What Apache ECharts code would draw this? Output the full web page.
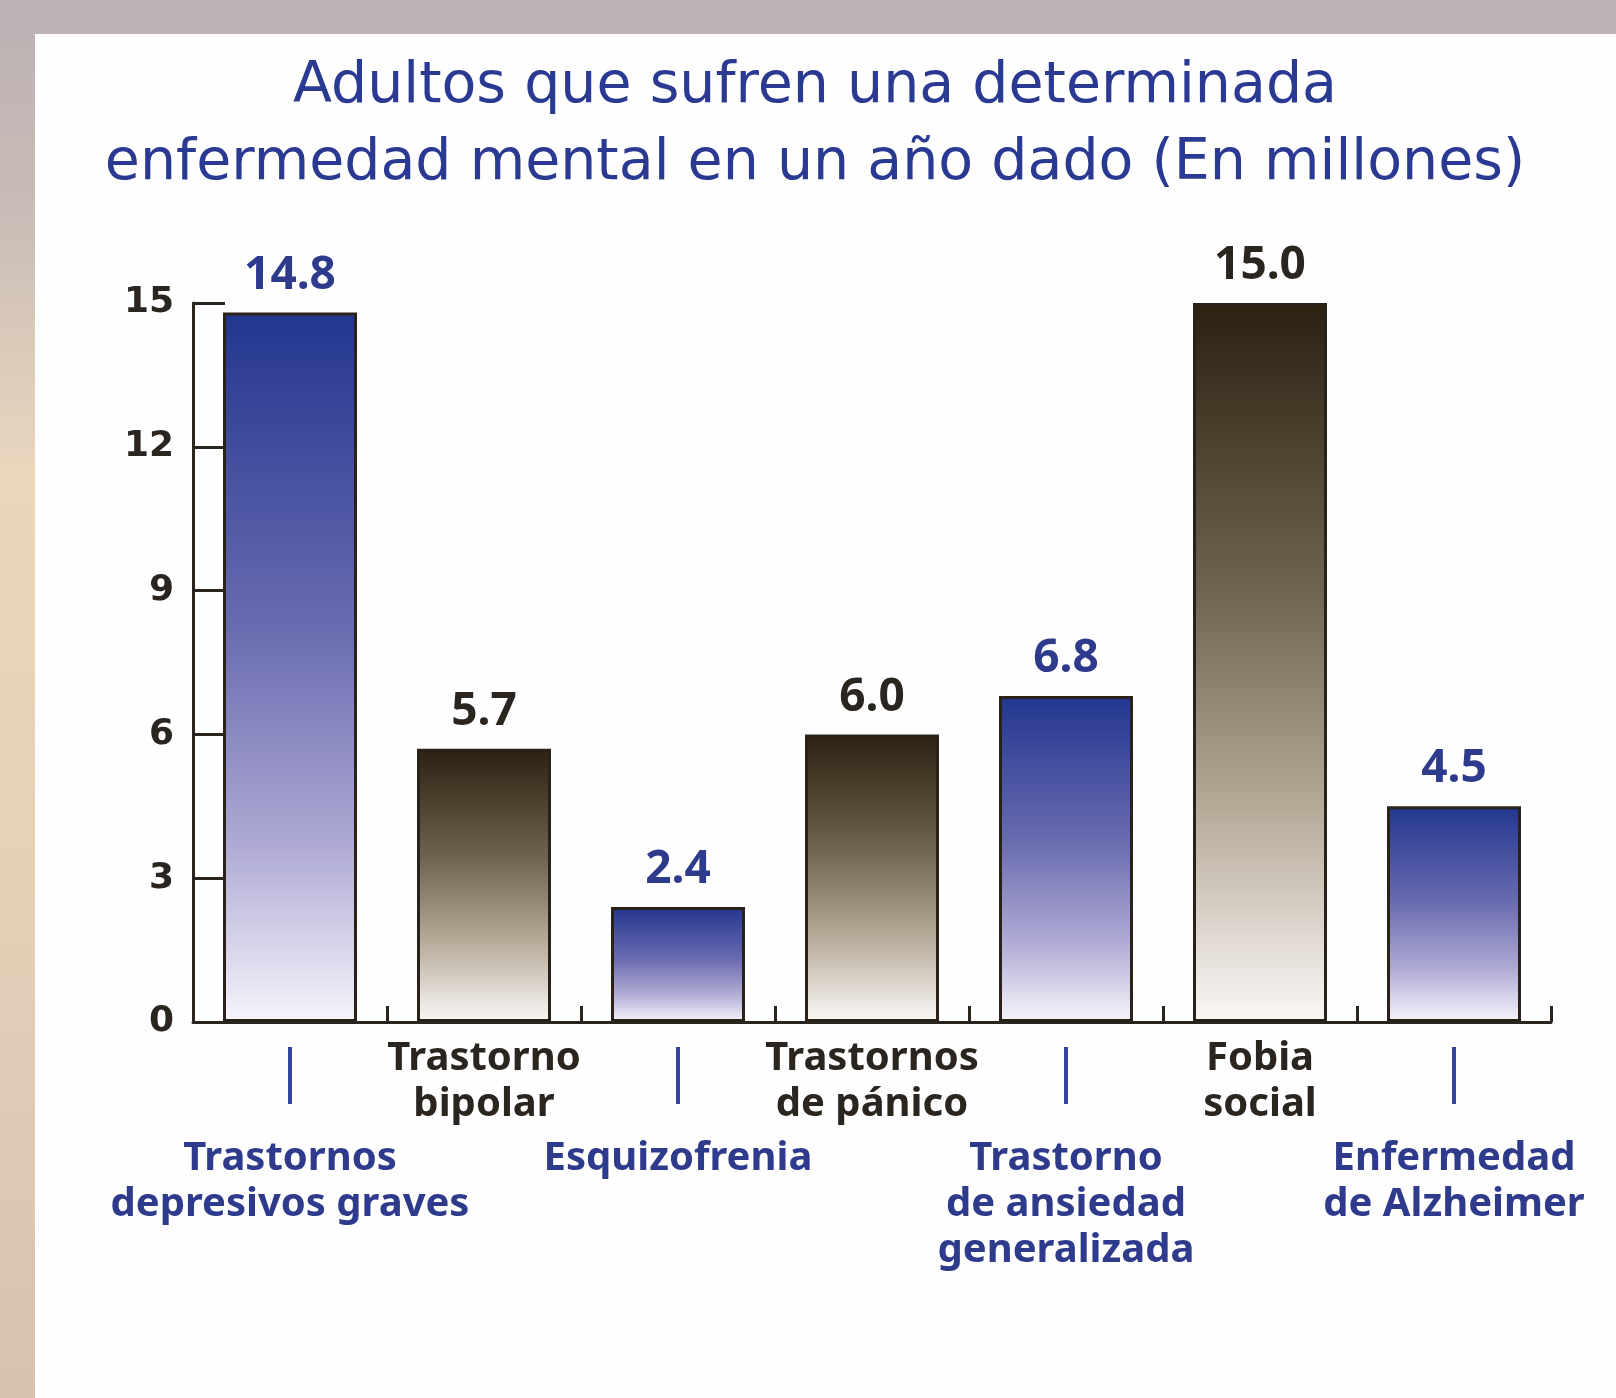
<!DOCTYPE html>
<html>
<head>
<meta charset="utf-8">
<script src="https://cdn.jsdelivr.net/npm/echarts@6/dist/echarts.min.js"></script>
<style>
    html, body {
        margin: 0;
        padding: 0;
        width: 1616px;
        height: 1398px;
        overflow: hidden;
        background: linear-gradient(180deg, #bcb1b4 0%, #c8bbb6 14%, #e9d7bd 34%, #e5d0b8 62%, #d8c2ad 100%);
    }
    #main {
        position: absolute;
        left: 35px;
        top: 34px;
        width: 1581px;
        height: 1364px;
        background: #fefefe;
    }
</style>
</head>
<body>
<div id="main"></div>
<script>
    // datos
    var categories = ['Trastornos\ndepresivos graves', 'Trastorno\nbipolar', 'Esquizofrenia', 'Trastornos\nde pánico',
        'Trastorno\nde ansiedad\ngeneralizada', 'Fobia\nsocial', 'Enfermedad\nde Alzheimer'];
    var values = [14.8, 5.7, 2.4, 6.0, 6.8, 15.0, 4.5];
    var barGroups = ['azul', 'marron', 'azul', 'marron', 'azul', 'marron', 'azul'];
    var yTicks = [0, 3, 6, 9, 12, 15];
    var titleLines = ['Adultos que sufren una determinada', 'enfermedad mental en un año dado (En millones)'];

    var darkText = '#2b2520';
    var blueText = '#2e3a8c';

    function barFill(group) {
        if (group === 'azul') {
            return new echarts.graphic.LinearGradient(0, 0, 0, 1, [
                {offset: 0, color: '#22368f'},
                {offset: 0.45, color: '#6a6cb0'},
                {offset: 0.75, color: '#aeaad4'},
                {offset: 1, color: '#f7f4fb'}
            ]);
        }
        return new echarts.graphic.LinearGradient(0, 0, 0, 1, [
            {offset: 0, color: '#2c2010'},
            {offset: 0.4, color: '#716351'},
            {offset: 0.7, color: '#b6a998'},
            {offset: 1, color: '#faf8f6'}
        ]);
    }

    var seriesData = [];
    for (var i = 0; i < values.length; i++) {
        seriesData.push({
            value: values[i],
            itemStyle: {color: barFill(barGroups[i])},
            label: {color: barGroups[i] === 'azul' ? blueText : darkText}
        });
    }

    var myChart = echarts.init(document.getElementById('main'));
    var option = {
        animation: false,
        title: {
            text: titleLines.join('\n'),
            left: 775,
            textAlign: 'center',
            top: 10,
            textStyle: {
                fontFamily: 'DejaVu Sans',
                fontWeight: 'normal',
                fontSize: 57,
                lineHeight: 77,
                color: '#2a3a92'
            }
        },
        grid: {
            left: 158,
            right: 65,
            top: 269,
            bottom: 376,
            containLabel: false
        },
        xAxis: {
            type: 'category',
            data: categories,
            axisLine: {lineStyle: {color: darkText, width: 3}},
            axisTick: {show: true, inside: true, length: 16, lineStyle: {color: darkText, width: 3}},
            axisLabel: {
                interval: 0,
                margin: 14,
                formatter: function (value, idx) {
                    var lines = value.split('\n');
                    if (barGroups[idx] === 'azul') {
                        return '{bar| }\n{sp| }\n' + lines.map(function (l) {
                            return '{b|' + l + '}';
                        }).join('\n');
                    }
                    return lines.map(function (l) {
                        return '{d|' + l + '}';
                    }).join('\n');
                },
                rich: {
                    d: {color: darkText, fontFamily: 'Noto Sans', fontWeight: 'bold', fontSize: 40, lineHeight: 46},
                    b: {color: blueText, fontFamily: 'Noto Sans', fontWeight: 'bold', fontSize: 40, lineHeight: 46},
                    bar: {width: 4, height: 57, backgroundColor: '#34459e', fontSize: 1, lineHeight: 79},
                    sp: {fontSize: 1, lineHeight: 21}
                }
            }
        },
        yAxis: {
            type: 'value',
            min: yTicks[0],
            max: yTicks[yTicks.length - 1],
            interval: 3,
            splitLine: {show: false},
            axisLine: {show: true, lineStyle: {color: darkText, width: 3}},
            axisTick: {show: true, inside: true, length: 32, lineStyle: {color: darkText, width: 3}},
            axisLabel: {
                margin: 19,
                fontFamily: 'DejaVu Sans',
                fontWeight: 'bold',
                fontSize: 36,
                color: darkText
            }
        },
        series: [{
            type: 'bar',
            data: seriesData,
            barWidth: 134,
            itemStyle: {borderColor: '#2a2218', borderWidth: 3},
            label: {
                show: true,
                position: 'top',
                distance: 14,
                fontFamily: 'Noto Sans',
                fontWeight: 'bold',
                fontSize: 46,
                formatter: function (p) {
                    return p.value.toFixed(1);
                }
            }
        }]
    };

    myChart.setOption(option);
</script>
</body>
</html>
